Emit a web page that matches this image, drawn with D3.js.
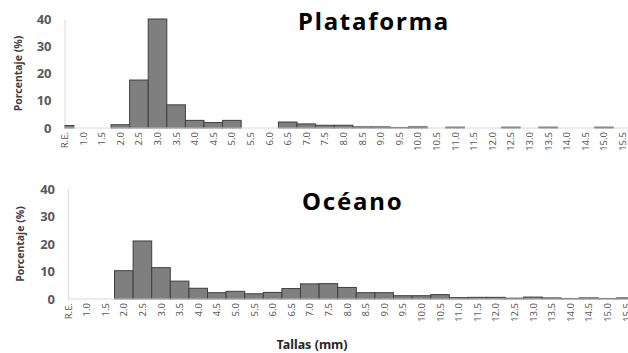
<!DOCTYPE html>
<html>
<head>
    <script src="https://cdnjs.cloudflare.com/ajax/libs/d3/7.8.5/d3.min.js"></script>
    <style>
        body { margin: 0; background: #fff; }
        text { font-family: "Noto Sans", "Open Sans", sans-serif; }
    </style>
</head>
<body>
    <div id="chart"></div>
    <script>
        // Size classes (mm)
        const categories = ["R.E.", "1.0", "1.5", "2.0", "2.5", "3.0", "3.5", "4.0", "4.5", "5.0",
            "5.5", "6.0", "6.5", "7.0", "7.5", "8.0", "8.5", "9.0", "9.5", "10.0",
            "10.5", "11.0", "11.5", "12.0", "12.5", "13.0", "13.5", "14.0", "14.5", "15.0", "15.5"];

        // Percentages per class
        const plataforma = [0.9, 0, 0, 1.2, 17.6, 40, 8.5, 2.8, 2.0, 2.8,
            0, 0, 2.2, 1.5, 1.0, 1.0, 0.4, 0.4, 0.2, 0.4,
            0, 0.3, 0, 0, 0.3, 0, 0.3, 0, 0, 0.3, 0];
        const oceano = [0, 0, 0, 10.3, 21.1, 11.4, 6.5, 3.9, 2.3, 2.8,
            1.9, 2.4, 3.8, 5.5, 5.6, 4.2, 2.3, 2.3, 1.2, 1.2,
            1.6, 0.5, 0.6, 0.6, 0.3, 0.7, 0.4, 0.2, 0.4, 0.2, 0.4];
        const yTicks = [0, 10, 20, 30, 40];

        const width = 628, height = 353;
        const bandW = 18.6;

        const svg = d3.select("#chart").append("svg")
            .attr("width", width)
            .attr("height", height);

        const panels = [
            { title: "Plataforma", values: plataforma, axisX: 64.5, top: 19, bottom: 128, titleX: 298, titleY: 30, yLabelX: 18 },
            { title: "Océano", values: oceano, axisX: 68, top: 189, bottom: 299, titleX: 302, titleY: 210, yLabelX: 20 }
        ];

        panels.forEach((p, i) => {
            const x = d3.scaleBand()
                .domain(categories)
                .range([p.axisX - bandW / 2, p.axisX - bandW / 2 + bandW * categories.length])
                .padding(0);
            const y = d3.scaleLinear().domain([0, 40]).range([p.bottom, p.top]);

            const g = svg.append("g");

            // clip bars to the right of the value axis
            svg.append("clipPath").attr("id", "clip" + i)
                .append("rect")
                .attr("x", p.axisX).attr("y", 0)
                .attr("width", width - p.axisX).attr("height", height);

            // value axis
            const yAxis = g.append("g")
                .attr("transform", `translate(${p.axisX},0)`)
                .call(d3.axisLeft(y).tickValues(yTicks).tickSize(0).tickPadding(13));
            yAxis.select(".domain").attr("stroke", "#d9d9d9");
            yAxis.selectAll("text")
                .attr("fill", "#595959")
                .style("font-size", "13px")
                .style("font-weight", "bold");

            // bars
            g.append("g").attr("clip-path", `url(#clip${i})`)
                .selectAll("rect")
                .data(p.values)
                .join("rect")
                .attr("x", (d, j) => x(categories[j]))
                .attr("y", d => y(d))
                .attr("width", x.bandwidth())
                .attr("height", d => y(0) - y(d))
                .attr("fill", "#7f7f7f")
                .attr("stroke", "#3f3f3f")
                .attr("stroke-width", 1)
                .attr("display", d => d > 0 ? null : "none");

            // category axis
            const xAxis = g.append("g")
                .attr("transform", `translate(0,${p.bottom})`)
                .call(d3.axisBottom(x).tickSize(0).tickPadding(0));
            xAxis.select(".domain").remove();
            g.append("line")
                .attr("x1", p.axisX).attr("x2", width)
                .attr("y1", p.bottom).attr("y2", p.bottom)
                .attr("stroke", "#d9d9d9");
            xAxis.selectAll("text")
                .attr("fill", "#595959")
                .style("font-size", "9.5px")
                .attr("text-anchor", "end")
                .attr("dy", null)
                .attr("dominant-baseline", "central")
                .attr("transform", "translate(0,4) rotate(-90)")
                .attr("x", 0).attr("y", 0);

            // axis title
            g.append("text")
                .attr("transform", `translate(${p.yLabelX},${(p.top + p.bottom) / 2}) rotate(-90)`)
                .attr("text-anchor", "middle")
                .attr("dominant-baseline", "central")
                .attr("fill", "#404040")
                .style("font-size", "10.5px")
                .style("font-weight", "bold")
                .text("Porcentaje (%)");

            // panel title
            g.append("text")
                .attr("x", p.titleX).attr("y", p.titleY)
                .attr("fill", "#000")
                .style("font-size", "24px")
                .style("font-weight", "bold")
                .style("letter-spacing", "1.8px")
                .text(p.title);
        });

        svg.append("text")
            .attr("x", 312).attr("y", 349)
            .attr("text-anchor", "middle")
            .attr("fill", "#262626")
            .style("font-size", "12.5px")
            .style("font-weight", "bold")
            .text("Tallas (mm)");
    </script>
</body>
</html>
